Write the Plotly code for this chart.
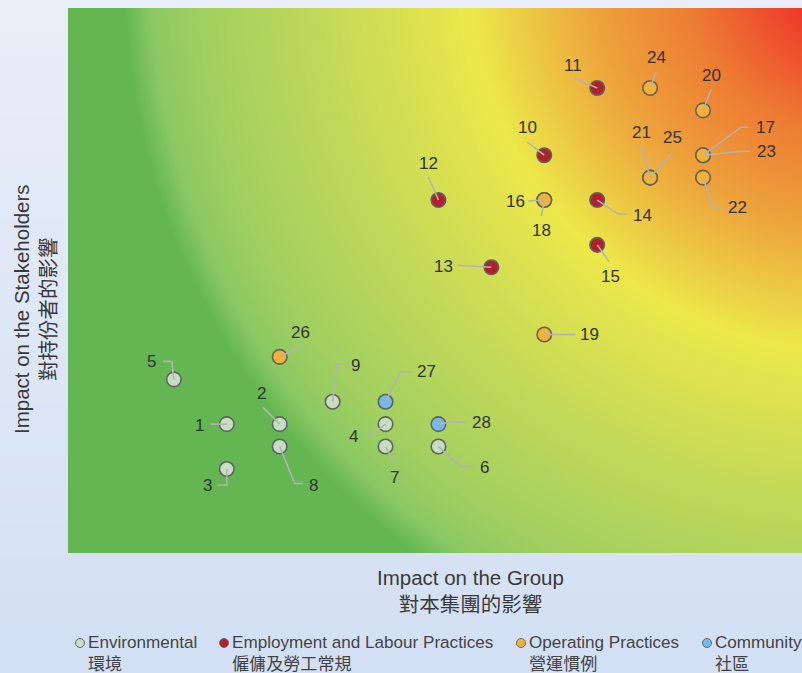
import numpy as np
import plotly.graph_objects as go

# ---------------- data ----------------
ids = list(range(1, 29))
impact_group = [3, 4, 3, 6, 2, 7, 6, 4, 5,
                9, 10, 7, 8, 10, 10,
                9, 12, 9, 9, 12, 11, 12, 12, 11, 11, 4,
                6, 7]
impact_stake = [6, 6, 4, 6, 8, 5, 5, 5, 7,
                18, 21, 16, 13, 16, 14,
                16, 18, 16, 10, 20, 17, 17, 18, 21, 17, 9,
                7, 6]
category = (["env"] * 9 + ["emp"] * 6 + ["op"] * 11 + ["com"] * 2)

cat_names = ["Environmental", "Employment and Labour Practices", "Operating Practices", "Community"]
cat_names_zh = ["環境", "僱傭及勞工常規", "營運慣例", "社區"]
cat_keys = ["env", "emp", "op", "com"]
cat_colors = {"env": "#c7dec3", "emp": "#b3202d", "op": "#f5b133", "com": "#76b9e8"}

# label placement (pixel offsets from the point; screen coords, +y = down)
label_dx = [-27, -18, -19, -32, -22, 46, 9, 34, 23,
            -17, -24, -10, -48, 45, 13,
            -29, 62, -3, 45, 8, -9, 34, 63, 6, 22, 21,
            41, 43]
label_dy = [1, -31, 17, 12, -18, 21, 31, 39, -36,
            -28, -23, -37, -1, 15, 32,
            1, -28, 30, 0, -35, -45, 30, -4, -31, -40, -24,
            -30, -2]
# leader line vertices (pixel offsets, screen coords)
leader = [
    [(-16, 0), (0, 0)],
    [(-17, -17), (0, 0)],
    [(-9, 16), (0, 16), (0, 0)],
    [(-21, 10), (-13, 10), (0, 0)],
    [(-11, -18), (-2, -18), (0, 0)],
    [(0, 0), (22, 20), (34, 20)],
    [(0, 0), (9, 16)],
    [(0, 0), (15, 37), (23, 37)],
    [(0, 0), (4, -38), (14, -38)],
    [(-17, -13), (0, 0)],
    [(-23, -10), (0, 0)],
    [(-10, -23), (0, 0)],
    [(-34, -2), (0, 0)],
    [(0, 0), (21, 14), (30, 14)],
    [(0, 0), (12, 17)],
    [(-16, 1), (0, 0)],
    [(45, -28), (38, -28), (0, 0)],
    [(-3, 16), (0, 0)],
    [(0, 0), (31, 0)],
    [(8, -21), (0, 0)],
    [(-9, -32), (0, 0)],
    [(0, 0), (10, 30), (19, 30)],
    [(47, -4), (39, -4), (0, 0)],
    [(6, -16), (0, 0)],
    [(22, -25), (0, 0)],
    [(0, 0), (21, -11)],
    [(0, 0), (15, -30), (26, -30)],
    [(0, 0), (12, -2), (27, -2)],
]

# ---------------- layout geometry ----------------
W, H = 802, 673
ML, MR, MT, MB = 68, 0, 8, 120
PW, PH = W - ML - MR, H - MT - MB
XR = [0, 13.87]
YR = [0.25, 24.57]
sx = PW / (XR[1] - XR[0])
sy = PH / (YR[1] - YR[0])

fig = go.Figure()

# background radial gradient (heatmap)
gx = np.linspace(XR[0] - 0.1, XR[1] + 0.1, 160)
gy = np.linspace(YR[0] - 0.2, YR[1] + 0.2, 130)
GX, GY = np.meshgrid(gx, gy)
PX = ML + (GX - XR[0]) * sx
PY = MT + (YR[1] - GY) * sy
cx, cy = 850, -30
R = np.sqrt((PX - cx) ** 2 + (PY - cy) ** 2) / 800.0
R = np.clip(R, 0, 1)
cscale = [
    [0.0, "#ee3027"],
    [0.08, "#ee3a2a"],
    [0.2, "#ed7a32"],
    [0.32, "#eda23b"],
    [0.476, "#ece84a"],
    [0.566, "#d8e051"],
    [0.69, "#bcd75a"],
    [0.815, "#a1cf60"],
    [0.875, "#8bc863"],
    [0.91, "#63b652"],
    [1.0, "#63b652"],
]
fig.add_trace(go.Heatmap(x=gx, y=gy, z=R, colorscale=cscale, zmin=0, zmax=1,
                         zsmooth="best", showscale=False, hoverinfo="skip"))

# points
for k in cat_keys:
    idx = [i for i, c in enumerate(category) if c == k]
    fig.add_trace(go.Scatter(
        x=[impact_group[i] for i in idx], y=[impact_stake[i] for i in idx],
        mode="markers", name=cat_names[cat_keys.index(k)],
        marker=dict(size=14.5, color=cat_colors[k], line=dict(color="#626262", width=1.6)),
        hoverinfo="skip", showlegend=False))

shapes = []
annotations = []

# paper background gradient strips
N = 40
top_c = np.array([0xea, 0xef, 0xf9])
bot_c = np.array([0xd3, 0xe0, 0xf3])
for i in range(N):
    t0 = i / N
    t1 = (i + 1) / N
    c = top_c + (bot_c - top_c) * (t0 + t1) / 2
    y0p = (H - MB - t0 * H) / PH
    y1p = (H - MB - t1 * H) / PH
    shapes.append(dict(type="rect", xref="paper", yref="paper",
                       x0=-ML / PW - 0.01, x1=1.01, y0=y1p - 0.002, y1=y0p,
                       fillcolor="rgb(%d,%d,%d)" % tuple(c.astype(int)),
                       line=dict(width=0), layer="below"))

# leader lines and labels
for i in range(len(ids)):
    pts = leader[i]
    path = "M" + " L".join("%g,%g" % (p[0], -p[1]) for p in pts)
    shapes.append(dict(type="path", xref="x", yref="y",
                       xsizemode="pixel", ysizemode="pixel",
                       xanchor=impact_group[i], yanchor=impact_stake[i],
                       path=path, line=dict(color="#b3b3b3", width=1.6), layer="above"))
    annotations.append(dict(x=impact_group[i], y=impact_stake[i], xref="x", yref="y",
                            text=str(ids[i]), showarrow=False,
                            xshift=label_dx[i], yshift=-label_dy[i],
                            font=dict(size=17, color="#333333", family="Liberation Sans")))

# axis titles
annotations.append(dict(xref="paper", yref="paper", x=(470 - ML) / PW, y=(H - MB - 590.5) / PH,
                        text="Impact on the Group<br>對本集團的影響", showarrow=False,
                        xanchor="center", yanchor="middle",
                        font=dict(size=20.5, color="#3a3a3a", family="Liberation Sans, Noto Sans CJK TC")))
annotations.append(dict(xref="paper", yref="paper", x=(35 - ML) / PW, y=(H - MB - 309) / PH,
                        text="Impact on the Stakeholders<br>對持份者的影響", showarrow=False,
                        textangle=-90, xanchor="center", yanchor="middle",
                        font=dict(size=20.5, color="#3a3a3a", family="Liberation Sans, Noto Sans CJK TC")))

# legend (custom)
leg_marker_x = [80, 224, 521, 707]
for j, k in enumerate(cat_keys):
    mx = leg_marker_x[j]
    shapes.append(dict(type="circle", xref="paper", yref="paper",
                       xsizemode="pixel", ysizemode="pixel",
                       xanchor=(mx - ML) / PW, yanchor=(H - MB - 643) / PH,
                       x0=-4.5, x1=4.5, y0=-4.5, y1=4.5,
                       fillcolor=cat_colors[k], line=dict(color="#6a6a6a", width=1)))
    annotations.append(dict(xref="paper", yref="paper", x=(mx + 6 - ML) / PW, y=(H - MB - 653) / PH,
                            text=cat_names[j] + "<br>" + cat_names_zh[j], showarrow=False,
                            xanchor="left", yanchor="middle", align="left",
                            font=dict(size=17.1, color="#444444", family="Liberation Sans, Noto Sans CJK TC")))

fig.update_layout(
    width=W, height=H,
    margin=dict(l=ML, r=MR, t=MT, b=MB),
    paper_bgcolor="#dfe7f6", plot_bgcolor="rgba(0,0,0,0)",
    xaxis=dict(range=XR, showgrid=False, zeroline=False, showticklabels=False, ticks="", fixedrange=True),
    yaxis=dict(range=YR, showgrid=False, zeroline=False, showticklabels=False, ticks="", fixedrange=True),
    shapes=shapes, annotations=annotations, showlegend=False,
)

fig.write_html("out.html", config={"displayModeBar": False},
               post_script="document.body.style.margin='0';document.body.style.padding='0';"
                           "document.body.style.overflow='hidden';")
